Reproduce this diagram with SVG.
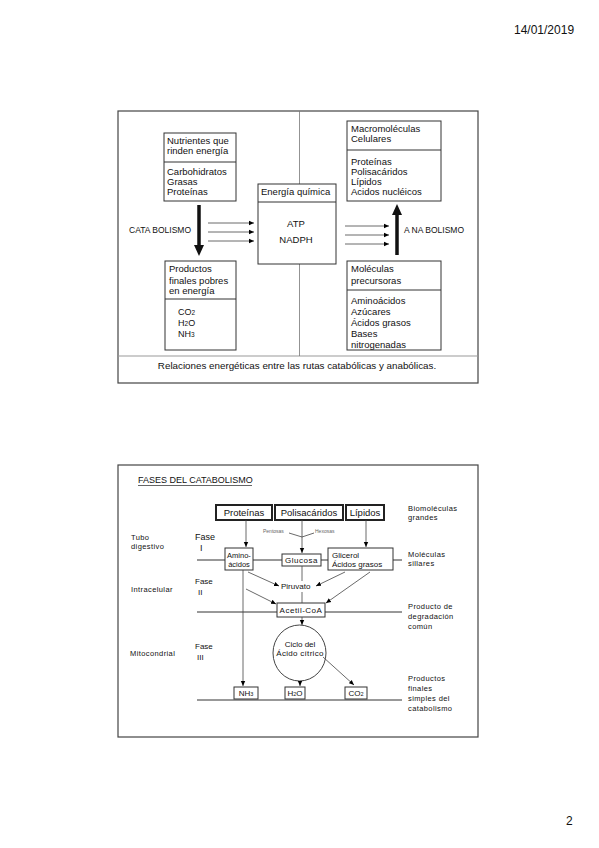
<svg xmlns="http://www.w3.org/2000/svg" width="599" height="848" viewBox="0 0 599 848">
<defs>
<marker id="ah" markerWidth="6" markerHeight="6" refX="5" refY="3" orient="auto" markerUnits="userSpaceOnUse">
<path d="M0,0.8 L5,3 L0,5.2 Z" fill="#000"/>
</marker>
<style>
.t{font-family:"Liberation Sans",Arial,sans-serif;fill:#111;}
.f95{font-size:9.5px;}
.f9{font-size:9px;}
.f8{font-size:8px;}
.f7{font-size:7.5px;letter-spacing:0.4px;}
.bx{fill:#fff;stroke:#333;stroke-width:1;}
.tb{fill:#fff;stroke:#222;stroke-width:2;}
.ln{stroke:#333;stroke-width:1;fill:none;}
.thin{stroke:#444;stroke-width:0.8;fill:none;}
.ar{stroke:#444;stroke-width:0.8;fill:none;marker-end:url(#ah);}
.fr{fill:none;stroke:#444;stroke-width:1.2;}
</style>
</defs>
<rect width="599" height="848" fill="#fff"/>
<text class="t" x="514" y="34" font-size="12">14/01/2019</text>
<text class="t" x="566" y="825" font-size="12">2</text>

<!-- Slide 1 -->
<g id="frame1">
<rect class="fr" x="118" y="111" width="360" height="272"/>
<line x1="118" y1="356" x2="478" y2="356" stroke="#999" stroke-width="1"/>
<line x1="299.5" y1="111" x2="299.5" y2="356" stroke="#777" stroke-width="0.8"/>
<text class="t" font-size="9.8" x="297" y="369" text-anchor="middle">Relaciones energéticas entre las rutas catabólicas y anabólicas.</text>
</g>
<g id="nutrientes">
<rect class="bx" x="164" y="133" width="72" height="68"/>
<line class="ln" x1="164" y1="162" x2="236" y2="162"/>
<text class="t f95" x="167" y="144">Nutrientes que</text>
<text class="t f95" x="167" y="154">rinden energía</text>
<text class="t f95" x="167" y="175">Carbohidratos</text>
<text class="t f95" x="167" y="185">Grasas</text>
<text class="t f95" x="167" y="195">Proteínas</text>
</g>
<g id="energia">
<rect class="bx" x="258" y="184" width="78" height="80"/>
<line class="ln" x1="258" y1="202" x2="336" y2="202"/>
<text class="t f95" x="261" y="195">Energía química</text>
<text class="t f95" x="296" y="227" text-anchor="middle">ATP</text>
<text class="t f95" x="296" y="243" text-anchor="middle">NADPH</text>
</g>
<g id="macro">
<rect class="bx" x="347" y="121" width="94" height="80"/>
<line class="ln" x1="347" y1="150" x2="441" y2="150"/>
<text class="t f95" x="351" y="132">Macromoléculas</text>
<text class="t f95" x="351" y="142">Celulares</text>
<text class="t f95" x="351" y="165">Proteínas</text>
<text class="t f95" x="351" y="175">Polisacáridos</text>
<text class="t f95" x="351" y="185">Lípidos</text>
<text class="t f95" x="351" y="195">Acidos nucléicos</text>
</g>
<g id="productos">
<rect class="bx" x="165" y="261" width="71" height="89"/>
<line class="ln" x1="165" y1="299" x2="236" y2="299"/>
<text class="t f95" x="169" y="272">Productos</text>
<text class="t f95" x="169" y="284">finales pobres</text>
<text class="t f95" x="169" y="294">en energía</text>
<text class="t f9" x="178" y="315">CO<tspan font-size="6.5">2</tspan></text>
<text class="t f9" x="178" y="326">H<tspan font-size="6.5">2</tspan>O</text>
<text class="t f9" x="178" y="337">NH<tspan font-size="6.5">3</tspan></text>
</g>
<g id="precursoras">
<rect class="bx" x="347" y="261" width="94" height="89"/>
<line class="ln" x1="347" y1="290" x2="441" y2="290"/>
<text class="t f95" x="351" y="272">Moléculas</text>
<text class="t f95" x="351" y="284">precursoras</text>
<text class="t f95" x="351" y="304">Aminoácidos</text>
<text class="t f95" x="351" y="315">Azúcares</text>
<text class="t f95" x="351" y="326">Ácidos grasos</text>
<text class="t f95" x="351" y="337">Bases</text>
<text class="t f95" x="351" y="348">nitrogenadas</text>
</g>
<g id="labels1">
<text class="t" font-size="8.5" x="129" y="233">CATA BOLISMO</text>
<text class="t" font-size="8.5" x="404" y="233">A NA BOLISMO</text>
</g>
<g id="connectors1">
<line x1="199" y1="205" x2="199" y2="246" stroke="#111" stroke-width="3.5"/>
<path d="M194,245 L204,245 L199,256 Z" fill="#111"/>
<line x1="397" y1="255" x2="397" y2="214" stroke="#111" stroke-width="3.5"/>
<path d="M392,215 L402,215 L397,204 Z" fill="#111"/>
<line class="ar" x1="208" y1="223" x2="254" y2="223"/>
<line class="ar" x1="208" y1="232" x2="254" y2="232"/>
<line class="ar" x1="208" y1="241" x2="254" y2="241"/>
<line class="ar" x1="345" y1="226" x2="389" y2="226"/>
<line class="ar" x1="345" y1="235" x2="389" y2="235"/>
<line class="ar" x1="345" y1="244" x2="389" y2="244"/>
</g>

<!-- Slide 2 -->
<g id="frame2">
<rect class="fr" x="118" y="465" width="360" height="272"/>
<text class="t f9" x="138" y="483">FASES DEL CATABOLISMO</text>
<line x1="138" y1="485.5" x2="252" y2="485.5" stroke="#222" stroke-width="0.7"/>
</g>
<g id="proteinas">
<rect class="tb" x="216" y="505" width="56" height="15"/>
<text class="t f95" x="244" y="516" text-anchor="middle">Proteínas</text>
</g>
<g id="polisacaridos">
<rect class="tb" x="275" y="505" width="68" height="15"/>
<text class="t f95" x="309" y="516" text-anchor="middle">Polisacáridos</text>
</g>
<g id="lipidos">
<rect class="tb" x="346" y="505" width="38" height="15"/>
<text class="t f95" x="365" y="516" text-anchor="middle">Lípidos</text>
</g>
<g id="lines2">
<line class="ln" x1="197" y1="560" x2="402" y2="560"/>
<line class="ln" x1="197" y1="612" x2="402" y2="612"/>
<line class="ln" x1="197" y1="700" x2="402" y2="700"/>
</g>
<g id="aminoacidos">
<rect class="bx" x="225" y="548" width="28" height="22"/>
<text class="t" font-size="7.5" x="239" y="558" text-anchor="middle">Amino-</text>
<text class="t" font-size="7.5" x="239" y="567" text-anchor="middle">ácidos</text>
</g>
<g id="glucosa">
<rect class="bx" x="282" y="554" width="39" height="12"/>
<text class="t f8" x="301.5" y="563" text-anchor="middle" letter-spacing="0.5">Glucosa</text>
</g>
<g id="glicerol">
<rect class="bx" x="328" y="548" width="65" height="22"/>
<text class="t f8" x="332" y="558">Glicerol</text>
<text class="t f8" x="332" y="567">Ácidos grasos</text>
</g>
<g id="piruvato">
<text class="t f8" x="281" y="589">Piruvato</text>
</g>
<g id="acetilcoa">
<rect class="bx" x="277" y="603" width="48" height="14"/>
<text class="t f8" x="301" y="613" text-anchor="middle" letter-spacing="0.5">Acetil-CoA</text>
</g>
<g id="ciclo">
<ellipse cx="299.5" cy="653" rx="26.5" ry="28" fill="#fff" stroke="#444" stroke-width="1"/>
<text class="t f8" x="300" y="647" text-anchor="middle">Ciclo del</text>
<text class="t f8" x="300" y="656" text-anchor="middle" letter-spacing="0.3">Ácido cítrico</text>
</g>
<g id="nh3">
<rect class="bx" x="234" y="687" width="24" height="12"/>
<text class="t f8" x="246" y="696" text-anchor="middle">NH<tspan font-size="5.5">3</tspan></text>
</g>
<g id="h2o">
<rect class="bx" x="285" y="687" width="20" height="12"/>
<text class="t f8" x="295" y="696" text-anchor="middle">H<tspan font-size="5.5">2</tspan>O</text>
</g>
<g id="co2">
<rect class="bx" x="345" y="687" width="22" height="12"/>
<text class="t f8" x="356" y="696" text-anchor="middle">CO<tspan font-size="5.5">2</tspan></text>
</g>
<g id="labels2">
<text class="t" font-size="5" x="263" y="533" style="fill:#666">Pentosas</text>
<text class="t" font-size="5" x="315" y="533" style="fill:#666">Hexosas</text>
<text class="t f7" x="131" y="540">Tubo</text>
<text class="t f7" x="131" y="549">digestivo</text>
<text class="t f7" x="131" y="592">Intracelular</text>
<text class="t f7" x="130" y="656">Mitocondrial</text>
<text class="t" font-size="9" x="195" y="540">Fase</text>
<text class="t" font-size="9" x="200" y="551">I</text>
<text class="t f8" x="195" y="584">Fase</text>
<text class="t f8" x="198" y="595">II</text>
<text class="t f8" x="195" y="649">Fase</text>
<text class="t f8" x="197" y="660">III</text>
<text class="t f7" x="408" y="511">Biomoléculas</text>
<text class="t f7" x="408" y="520">grandes</text>
<text class="t f7" x="408" y="557">Moléculas</text>
<text class="t f7" x="408" y="566">sillares</text>
<text class="t f7" x="408" y="609">Producto de</text>
<text class="t f7" x="408" y="619">degradación</text>
<text class="t f7" x="408" y="629">común</text>
<text class="t f7" x="408" y="681">Productos</text>
<text class="t f7" x="408" y="691">finales</text>
<text class="t f7" x="408" y="701">simples del</text>
<text class="t f7" x="408" y="711">catabolismo</text>
</g>
<g id="connectors2">
<line class="ar" x1="246" y1="520" x2="246" y2="547"/>
<line class="ar" x1="302" y1="520" x2="302" y2="553"/>
<line class="ar" x1="366" y1="520" x2="366" y2="547"/>
<path class="thin" d="M289,533 L302,537 L314,533" stroke="#888"/>
<line class="ar" x1="248" y1="572" x2="279" y2="586"/>
<line class="ar" x1="345" y1="572" x2="316" y2="586"/>
<line class="thin" x1="302" y1="566" x2="302" y2="581"/>
<line class="thin" x1="302" y1="592" x2="302" y2="603"/>
<line class="ar" x1="243" y1="570" x2="243" y2="686"/>
<line class="ar" x1="246" y1="589" x2="276" y2="604"/>
<line class="ar" x1="370" y1="572" x2="326" y2="603"/>
<line class="ar" x1="302" y1="617" x2="302" y2="625"/>
<line class="ar" x1="300" y1="681" x2="300" y2="686"/>
<line class="ar" x1="323" y1="657" x2="354" y2="685"/>
</g>
</svg>
